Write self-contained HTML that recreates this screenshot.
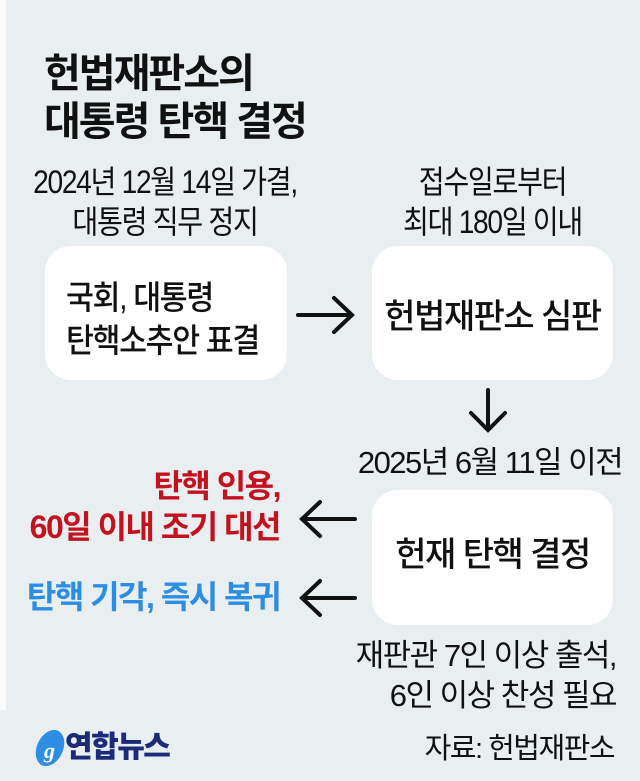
<!DOCTYPE html>
<html><head><meta charset="utf-8"><style>
body{margin:0;width:640px;height:781px;background:#e9eff1;position:relative;overflow:hidden;font-family:"Liberation Sans","Noto Sans CJK KR",sans-serif;color:#111}
.t{position:absolute;white-space:nowrap;letter-spacing:-1.5px;line-height:1}
.box{position:absolute;background:#fff;border-radius:26px}
.c{text-align:center}
</style></head><body>
<div style="position:absolute;left:0;top:0;width:6px;height:710px;background:#fafcfc"></div>
<div class="t" style="left:44px;top:50px;font-size:40px;font-weight:bold;letter-spacing:-2px;line-height:48px">헌법재판소의<br>대통령 탄핵 결정</div>

<div class="t c" style="left:10px;width:310px;top:162px;font-size:32px;line-height:40px;transform:scaleX(.88)">2024년 12월 14일 가결,<br>대통령 직무 정지</div>
<div class="t c" style="left:362px;width:261px;top:162px;font-size:32px;line-height:40px;transform:scaleX(.88)">접수일로부터<br>최대 180일 이내</div>

<div class="box" style="left:45px;top:246px;width:242px;height:134px"></div>
<div class="box" style="left:372px;top:246px;width:241px;height:134px"></div>
<div class="box" style="left:372px;top:490px;width:241px;height:135px"></div>

<div class="t" style="left:66px;top:276px;font-size:33px;line-height:43px;font-weight:500;transform:scaleX(.92);transform-origin:left">국회, 대통령<br>탄핵소추안 표결</div>
<div class="t c" style="left:352px;width:281px;top:300px;font-size:34px;font-weight:500">헌법재판소 심판</div>
<div class="t c" style="left:352px;width:281px;top:538px;font-size:34px;font-weight:500">헌재 탄핵 결정</div>

<div class="t c" style="left:340px;width:300px;top:447px;font-size:31px">2025년 6월 11일 이전</div>
<div class="t" style="right:360px;top:466px;font-size:32px;line-height:41px;font-weight:bold;color:#c3121f;text-align:right">탄핵 인용,<br>60일 이내 조기 대선</div>
<div class="t" style="right:360px;top:581px;font-size:32px;font-weight:bold;color:#2d8de3">탄핵 기각, 즉시 복귀</div>

<div class="t" style="right:24px;top:636px;font-size:31px;line-height:40px;text-align:right">재판관 7인 이상 출석,<br>6인 이상 찬성 필요</div>
<div class="t" style="right:26px;top:735px;font-size:29px">자료: 헌법재판소</div>

<svg style="position:absolute;left:0;top:0" width="640" height="781">
<g stroke="#111" stroke-width="4" fill="none" stroke-linecap="round">
<path d="M298 315H352M334 298L352 315L334 332"/>
<path d="M488 390V430M471 413L488 430L505 413"/>
<path d="M355 519H302M320 502L302 519L320 536"/>
<path d="M355 598H302M320 581L302 598L320 615"/>
</g>
<ellipse cx="50" cy="748" rx="13" ry="19" fill="#2d8de3" transform="rotate(25 50 748)"/>
<text x="44" y="758" font-size="22" font-style="italic" font-weight="bold" fill="#fff" font-family="Liberation Serif">g</text>
</svg>
<div class="t" style="left:65px;top:733px;font-size:30px;font-weight:900;color:#1c2a7a">연합뉴스</div>
</body></html>
